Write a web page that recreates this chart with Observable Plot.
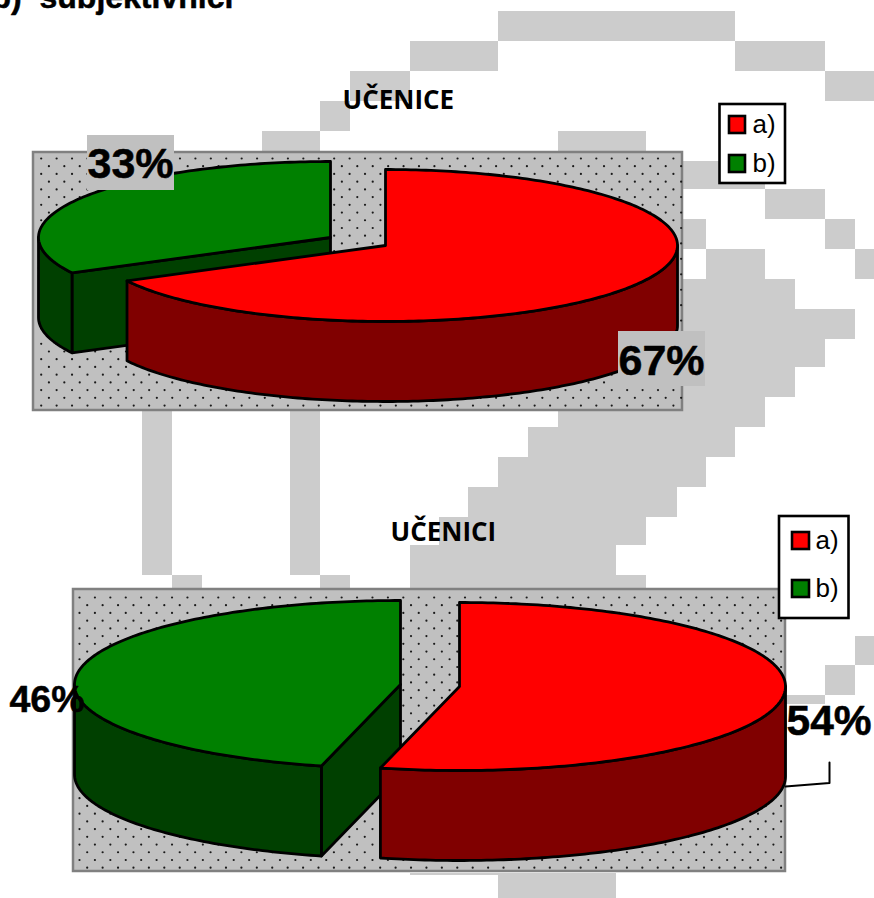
<!DOCTYPE html>
<html>
<head>
<meta charset="utf-8">
<style>html,body{margin:0;padding:0;background:#fff}svg{display:block}</style>
<script src="https://cdn.jsdelivr.net/npm/d3@7"></script>
<script src="https://cdn.jsdelivr.net/npm/@observablehq/plot@0.6"></script>
</head>
<body>
<script>
// ---- chart values (slice shares as measured; the labels show them rounded) ----
const categories = ["a)", "b)"];
const ucenice = [67.3, 32.7];
const ucenici = [53.9, 46.1];
const headings = ["UČENICE", "UČENICI"];
const pageTitle = "b)  subjektivnici";

// ---- pale stepped backdrop behind the charts: [x1, y1, x2, y2] ----
const backdropCells = [
  [498,11,735,41],[410,41,498,71],[735,41,825,71],[350,71,410,101],[825,71,874,101],
  [320,101,350,131],[262,131,320,161],[558,131,646,161],[683,161,765,189],[765,189,825,219],
  [683,219,706,249],[825,219,855,249],[706,249,765,279],[855,249,874,279],[683,279,795,309],
  [683,309,855,339],[683,339,825,367],[683,367,795,397],[683,397,765,410],[558,410,765,427],
  [528,427,735,457],[498,457,706,487],[468,487,677,517],[439,517,646,545],[410,545,616,575],
  [410,575,646,589],[142,410,172,575],[172,575,202,589],[290,410,320,575],[320,575,350,589],
  [855,636,874,665],[825,665,855,695],[786,695,825,704],[498,873,616,898],[410,873,498,875]
];

// ---- panels ----
const panels = [
  {x1:33, y1:152, x2:682, y2:410, dotX:40.7, dotY:158},
  {x1:73, y1:589, x2:785, y2:871, dotX:79, dotY:597}
];
const dots = [];
for (const p of panels) {
  for (let r = 0; p.dotY + r * 7.72 < p.y2 - 1; ++r) {
    for (let c = 0; ; ++c) {
      const x = p.dotX + (r % 2 ? 7.7 : 0) + c * 15.42;
      if (x > p.x2 - 1) break;
      dots.push({x, y: p.dotY + r * 7.72});
    }
  }
}

// ---- pie wedge geometry, from the values ----
const TAU = Math.PI * 2;
function onRim(g, deg, drop = 0) {
  const a = deg * TAU / 360;
  return {x: g.cx + g.rx * Math.sin(a), y: g.cy - g.ry * Math.cos(a) + drop};
}
function arc(g, from, to, drop = 0) {
  const pts = [];
  const n = Math.max(2, Math.ceil(Math.abs(to - from)));
  for (let i = 0; i <= n; ++i) pts.push(onRim(g, from + (to - from) * i / n, drop));
  return pts;
}
function wedgeTop(g, from, to) {
  const c = {x: g.cx, y: g.cy};
  return [c, ...arc(g, from, to), c];
}
function wall(g, from, to) {
  return [...arc(g, from, to), ...arc(g, to, from, g.h), onRim(g, from)];
}
function face(g, deg) {
  return [{x: g.cx, y: g.cy}, onRim(g, deg), onRim(g, deg, g.h), {x: g.cx, y: g.cy + g.h}, {x: g.cx, y: g.cy}];
}
const pieOptions = {x: "x", y: "y", stroke: "#000", strokeWidth: 2.8, strokeLinejoin: "round"};
function poly(points, fill) { return Plot.line(points, {...pieOptions, fill}); }

function pie(values, gA, gB) {
  const split = values[0] / d3.sum(values) * 360;
  return [
    poly(face(gB, split), "#004000"),
    poly(wall(gB, split, Math.max(split, 270)), "#004000"),
    poly(wedgeTop(gB, split, 360), "#008000"),
    poly(wall(gA, 90, Math.min(270, split)), "#800000"),
    poly(wedgeTop(gA, 0, split), "#ff0000")
  ];
}
const pie1A = {cx:385, cy:245, rx:292, ry:76, h:80};
const pie1B = {cx:330, cy:237, rx:292, ry:76, h:80};
const pie2A = {cx:459, cy:686, rx:326, ry:84, h:90};
const pie2B = {cx:400, cy:684, rx:326, ry:84, h:90};

// ---- labels ----
const pct = v => Math.round(v) + "%";
const pctFont = {fontFamily: "Liberation Sans", fontWeight: 700, textAnchor: "start", lineAnchor: "bottom", fill: "#000", stroke: "#000", strokeWidth: 0.5};
const labelBoxes = [{x1:87, y1:135, x2:174, y2:190}, {x1:618, y1:331, x2:705, y2:386}];
const legends = [
  {box:{x1:719.5, y1:104, x2:785, y2:183}, sw:[{x1:729, y1:116, x2:745, y2:133}, {x1:729, y1:155, x2:745, y2:172}], tx:752, ty:[132,171]},
  {box:{x1:779, y1:516, x2:848.5, y2:618}, sw:[{x1:792, y1:532, x2:809, y2:549}, {x1:792, y1:580, x2:809, y2:597}], tx:815, ty:[548,596]}
];
const swatchColors = ["#ff0000", "#008000"];
const leader = [{x:785, y:786}, {x:829, y:782.5}, {x:829, y:762}];

const marks = [
  Plot.rect(backdropCells, {x1: d => d[0], y1: d => d[1], x2: d => d[2], y2: d => d[3], fill: "#cccccc"}),
  Plot.text([{t:pageTitle, x:-9, y:7}], {x:"x", y:"y", text:"t", fontSize: 32, ...pctFont}),
  Plot.rect(panels, {x1:"x1", x2:"x2", y1:"y1", y2:"y2", fill:"#c0c0c0", stroke:"#808080", strokeWidth:2.5}),
  Plot.dot(dots, {x:"x", y:"y", r:1.1, fill:"#1a1a1a", stroke:"none"}),
  ...pie(ucenice, pie1A, pie1B),
  ...pie(ucenici, pie2A, pie2B),
  Plot.line(leader, {x:"x", y:"y", stroke:"#000", strokeWidth:2, curve:"linear"}),
  Plot.rect(labelBoxes, {x1:"x1", x2:"x2", y1:"y1", y2:"y2", fill:"#c0c0c0"}),
  Plot.text([{t:pct(ucenice[1]), x:87, y:177}, {t:pct(ucenice[0]), x:618, y:374}], {x:"x", y:"y", text:"t", fontSize:43, ...pctFont}),
  Plot.text([{t:pct(ucenici[1]), x:9, y:711}], {x:"x", y:"y", text:"t", fontSize:37.5, ...pctFont}),
  Plot.text([{t:pct(ucenici[0]), x:786, y:734}], {x:"x", y:"y", text:"t", fontSize:42.5, ...pctFont}),
  Plot.text([{t:headings[0], x:342, y:108}, {t:headings[1], x:390, y:540}], {x:"x", y:"y", text:"t", fontSize:26, fontFamily:"Open Sans", fontWeight:700, textAnchor:"start", lineAnchor:"bottom", fill:"#000"}),
  ...legends.flatMap(l => [
    Plot.rect([l.box], {x1:"x1", x2:"x2", y1:"y1", y2:"y2", fill:"#fff", stroke:"#000", strokeWidth:2.6}),
    Plot.rect(l.sw, {x1:"x1", x2:"x2", y1:"y1", y2:"y2", fill:(d,i)=>swatchColors[i], stroke:"#000", strokeWidth:2.6}),
    Plot.text(categories.map((c,i)=>({c, x:l.tx, y:l.ty[i]})), {x:"x", y:"y", text:"c", fontSize:26, fontFamily:"Liberation Sans", textAnchor:"start", lineAnchor:"bottom", fill:"#000"})
  ])
];

const chart = Plot.plot({
  width: 874, height: 898, margin: 0,
  x: {axis: null, domain: [0, 874], range: [0, 874]},
  y: {axis: null, domain: [0, 898], range: [0, 898]},
  style: {background: "#fff"},
  marks
});
document.body.append(chart);
</script>
</body>
</html>
